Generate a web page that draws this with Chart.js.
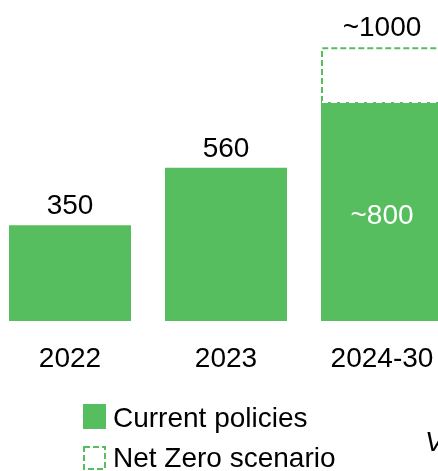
<!DOCTYPE html>
<html lang="en">
<head>
    <meta charset="UTF-8">
    <title>Capacity additions</title>
    <script src="https://cdn.jsdelivr.net/npm/chart.js"></script>
    <style>
        html, body { margin: 0; padding: 0; background: #fff; overflow: hidden; }
        body { width: 438px; height: 471px; position: relative; }
        #chart { position: absolute; left: -8px; top: 0; }
    </style>
</head>
<body>
    <canvas id="chart" width="468" height="471"></canvas>

    <script>
        // chart data
        const periods = ['2022', '2023', '2024-30'];
        const currentPolicies = [350, 560, 800];
        const netZero = [null, null, 1000];
        const approx = [false, false, true];
        const seriesNames = ['Current policies', 'Net Zero scenario'];

        const green = 'rgb(86, 190, 94)';
        const font = '28px "Liberation Sans", Arial, sans-serif';

        // extra height of the Net Zero box above the current-policies bar
        const netZeroExtra = netZero.map((v, i) => v == null ? null : v - currentPolicies[i]);

        function valueText(v, i) {
            return (approx[i] ? '~' : '') + v;
        }

        function dashedLine(ctx, x1, y1, x2, y2, color) {
            ctx.beginPath();
            ctx.strokeStyle = color;
            ctx.moveTo(x1, y1);
            ctx.lineTo(x2, y2);
            ctx.stroke();
        }

        // value labels, net zero outline, category labels and legend
        const annotations = {
            id: 'annotations',
            afterDatasetsDraw(chart) {
                const ctx = chart.ctx;
                const xs = chart.scales.x;
                const bars = chart.getDatasetMeta(0).data;
                const nzBars = chart.getDatasetMeta(1).data;

                ctx.save();
                ctx.font = font;
                ctx.textAlign = 'center';
                ctx.textBaseline = 'alphabetic';

                bars.forEach((bar, i) => {
                    const p = bar.getProps(['x', 'y', 'base'], true);
                    if (netZero[i] == null) {
                        ctx.fillStyle = '#000';
                        ctx.fillText(valueText(currentPolicies[i], i), p.x, p.y - 11);
                    } else {
                        ctx.fillStyle = '#fff';
                        ctx.fillText(valueText(currentPolicies[i], i), p.x, (p.y + p.base) / 2 + 12);
                    }
                });

                // dashed Net Zero boxes
                ctx.lineWidth = 2;
                ctx.setLineDash([6, 3]);
                nzBars.forEach((bar, i) => {
                    if (netZero[i] == null) return;
                    const p = bar.getProps(['x', 'y', 'base', 'width'], true);
                    const l = p.x - p.width / 2 + 1;
                    const r = p.x + p.width / 2 - 1;
                    const t = p.y + 1;
                    const b = p.base;
                    ctx.beginPath();
                    ctx.strokeStyle = green;
                    ctx.moveTo(l, b);
                    ctx.lineTo(l, t);
                    ctx.lineTo(r, t);
                    ctx.lineTo(r, b);
                    ctx.stroke();
                    dashedLine(ctx, l, b, r, b, '#fff');

                    ctx.fillStyle = '#000';
                    ctx.fillText(valueText(netZero[i], i), p.x, p.y - 11);
                });
                ctx.setLineDash([]);

                // category labels
                ctx.fillStyle = '#000';
                periods.forEach((label, i) => {
                    ctx.fillText(label, xs.getPixelForValue(i), chart.chartArea.bottom + 46);
                });

                // legend
                const lx = 91;
                ctx.textAlign = 'left';
                ctx.fillStyle = green;
                ctx.fillRect(lx, 404, 23, 25);
                ctx.fillStyle = '#000';
                ctx.fillText(seriesNames[0], lx + 30, 427);

                ctx.lineWidth = 2;
                ctx.setLineDash([6, 3]);
                ctx.strokeStyle = green;
                ctx.strokeRect(lx + 1, 447, 21, 22);
                ctx.setLineDash([]);
                ctx.fillStyle = '#000';
                ctx.fillText(seriesNames[1], lx + 30, 467);

                ctx.font = 'italic ' + font;
                ctx.fillText('V', 433, 451);
                ctx.restore();
            }
        };

        new Chart(document.getElementById('chart'), {
            type: 'bar',
            data: {
                labels: periods,
                datasets: [{
                    label: seriesNames[0],
                    data: currentPolicies,
                    backgroundColor: green,
                    borderWidth: 0
                }, {
                    label: seriesNames[1],
                    data: netZeroExtra,
                    backgroundColor: 'rgba(0,0,0,0)',
                    borderWidth: 0
                }]
            },
            options: {
                responsive: false,
                animation: false,
                events: [],
                categoryPercentage: 1,
                barPercentage: 0.782,
                layout: { padding: { top: 20, bottom: 150, left: 0, right: 0 } },
                plugins: {
                    legend: { display: false },
                    tooltip: { enabled: false }
                },
                scales: {
                    x: { stacked: true, display: false },
                    y: { stacked: true, display: false, min: 0, max: 1100 }
                }
            },
            plugins: [annotations]
        });
    </script>
</body>
</html>
